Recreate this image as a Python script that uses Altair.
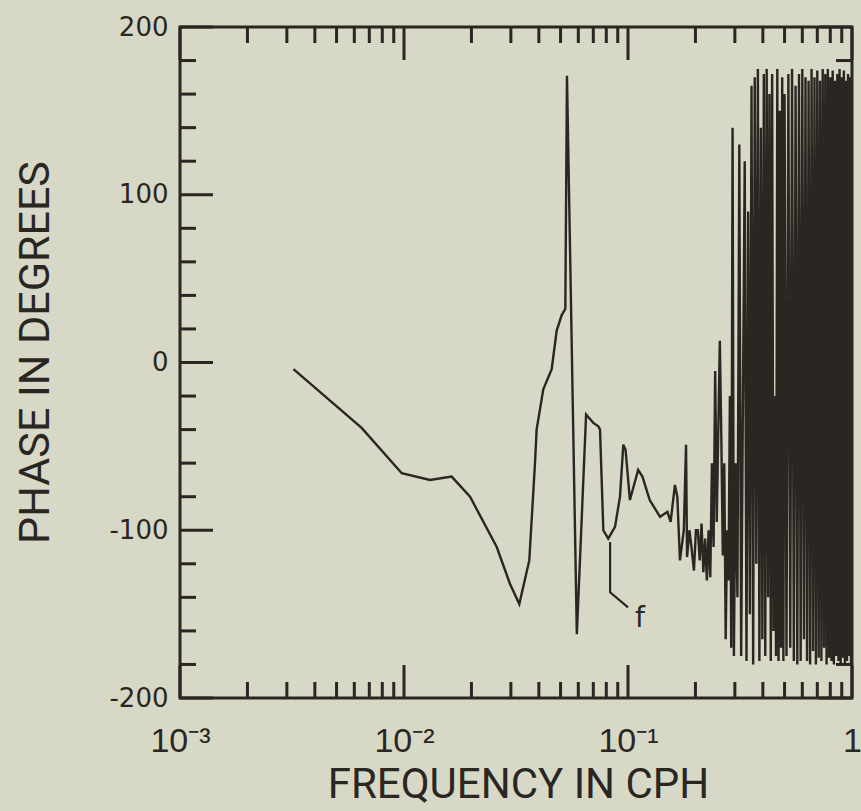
import altair as alt
import pandas as pd

INK = "#2a2622"
BG = "#d7d8c6"

# ---- data ----
FREQ_LOW = [0.00321, 0.00647, 0.00977, 0.01306, 0.01632, 0.01972, 0.02594, 0.02974, 0.03272,
            0.03625, 0.03844, 0.03909, 0.04186, 0.04563, 0.04805, 0.0505, 0.0525, 0.0534,
            0.0591, 0.0650, 0.0700, 0.0737, 0.0750, 0.0776, 0.0816, 0.0875, 0.0921, 0.0953,
            0.0975, 0.102, 0.111, 0.116, 0.125, 0.139, 0.150, 0.155, 0.162, 0.166, 0.1706,
            0.1775, 0.1816, 0.1835, 0.188, 0.192, 0.197, 0.201]
PHASE_LOW = [-4, -39, -66, -70, -68, -80, -110, -132, -144,
             -118, -60, -40, -16, -4, 19, 28, 32, 171,
             -162, -31, -36, -38, -40, -100, -105, -98, -80, -49,
             -52, -82, -64, -68, -82, -92, -89, -95, -73, -80, -118,
             -100, -49, -116, -100, -110, -124, -100]

FREQ_HIGH = [0.205, 0.209, 0.213, 0.217, 0.221, 0.225, 0.229, 0.233, 0.237, 0.241, 0.245, 0.249,
             0.253, 0.257, 0.261, 0.265, 0.269, 0.273, 0.277, 0.281, 0.285, 0.289, 0.293, 0.297,
             0.302, 0.308, 0.314, 0.320, 0.326, 0.332, 0.338, 0.344, 0.350, 0.356, 0.362, 0.368,
             0.374, 0.380, 0.386, 0.392, 0.398, 0.404, 0.410, 0.416, 0.422, 0.428, 0.434, 0.440,
             0.446, 0.452, 0.458, 0.464, 0.470, 0.476, 0.482, 0.488, 0.494,
             0.50, 0.51, 0.52, 0.53, 0.54, 0.55, 0.56, 0.57, 0.58, 0.59, 0.60, 0.61, 0.62, 0.63,
             0.64, 0.65, 0.66, 0.67, 0.68, 0.69, 0.70, 0.71, 0.72, 0.73, 0.74, 0.75, 0.76, 0.77,
             0.78, 0.79, 0.80, 0.81, 0.82, 0.83, 0.84, 0.85, 0.86, 0.87, 0.88, 0.89, 0.90, 0.91,
             0.92, 0.93, 0.94, 0.95, 0.96, 0.97, 0.98, 0.99, 1.00]
PHASE_HIGH = [-100, -118, -96, -125, -105, -130, -100, -128, -60, -110, -5, -95,
              -40, 13, -45, -115, -60, -165, -100, -130, -20, -170, 140, -175,
              -60, -140, 130, -175, -20, 120, -178, 90, -150, 165, -180, 170,
              -120, 175, -178, 140, -165, 172, -175, 175, -140, 160, -178, 172,
              -160, -20, -175, 175, -178, 150, -170, 170, -178,
              160, -175, 172, -170, 175, -178, 165, -180, 172, -178, 175, -165, 170, -178,
              168, -180, 175, -172, 170, -180, 174, -176, 168, -178, 175, -170, 172, -180,
              175, -176, 170, -178, 174, -180, 168, -175, 172, -178, 175, -180, 170, -176,
              174, -180, 168, -178, 172, -175, 170, -180, 165]

ANNOT_FREQ = [0.0832, 0.0832, 0.100]
ANNOT_PHASE = [-107, -137, -146]
LABEL_FREQ = [0.113]
LABEL_PHASE = [-153]
LABEL_TEXT = ["f"]

X_MAJOR = [0.001, 0.01, 0.1, 1.0]
X_MINOR = [0.002, 0.003, 0.004, 0.005, 0.006, 0.007, 0.008, 0.009,
           0.02, 0.03, 0.04, 0.05, 0.06, 0.07, 0.08, 0.09,
           0.2, 0.3, 0.4, 0.5, 0.6, 0.7, 0.8, 0.9]
Y_MAJOR = [-200, -100, 0, 100, 200]
Y_MINOR = [-180, -160, -140, -120, -80, -60, -40, -20, 20, 40, 60, 80, 120, 140, 160, 180]

W, H = 672, 671
MAJ, MIN = 33, 16

xscale = alt.Scale(type="log", domain=[0.001, 1], nice=False)
yscale = alt.Scale(domain=[-200, 200], nice=False, zero=False)

curve = pd.DataFrame({"freq": FREQ_LOW + FREQ_HIGH, "phase": PHASE_LOW + PHASE_HIGH})
curve["i"] = list(range(len(curve)))

xaxis = alt.Axis(
    values=X_MAJOR, ticks=False, domain=False, grid=False,
    labelExpr="datum.value < 0.002 ? '10⁻³' : datum.value < 0.02 ? '10⁻²' : datum.value < 0.2 ? '10⁻¹' : '1'",
    labelFont="Liberation Sans", labelFontSize=34, labelColor=INK, labelPadding=26,
    labelFlush=False, labelOverlap=False,
    title="FREQUENCY IN CPH", titleFont="Liberation Sans Narrow, Roboto", titleFontSize=42,
    titleFontWeight="normal", titleColor=INK, titleX=338, titleY=86,
    titleAlign="center", titleBaseline="middle",
)
yaxis = alt.Axis(
    values=Y_MAJOR, ticks=False, domain=False, grid=False,
    labelExpr="'' + datum.value",
    labelFont="DejaVu Sans", labelFontSize=26, labelColor=INK, labelPadding=12,
    labelFlush=False, labelOverlap=False,
    title="PHASE IN DEGREES", titleFont="Liberation Sans Narrow, Roboto", titleFontSize=43,
    titleFontWeight="normal", titleColor=INK, titleX=-145, titleY=325,
    titleAlign="center", titleBaseline="middle", titleAngle=-90,
)

def X(field):
    return alt.X(field, scale=xscale, axis=xaxis, title="FREQUENCY IN CPH")

def Y(field):
    return alt.Y(field, scale=yscale, axis=yaxis, title="PHASE IN DEGREES")

line = alt.Chart(curve).mark_line(color=INK, strokeWidth=2.4, clip=True).encode(
    x=X("freq:Q"), y=Y("phase:Q"), order="i:Q",
)

annot = alt.Chart(pd.DataFrame({"freq": ANNOT_FREQ, "phase": ANNOT_PHASE, "i": [0, 1, 2]})).mark_line(
    color=INK, strokeWidth=2.2
).encode(x=X("freq:Q"), y=Y("phase:Q"), order="i:Q")

ftext = alt.Chart(pd.DataFrame({"freq": LABEL_FREQ, "phase": LABEL_PHASE, "t": LABEL_TEXT})).mark_text(
    font="DejaVu Sans", fontSize=28, color=INK, align="center", baseline="middle"
).encode(x=X("freq:Q"), y=Y("phase:Q"), text="t:N")

def xticks(vals, length):
    d = pd.DataFrame({"freq": vals})
    base = alt.Chart(d).mark_rule(color=INK, strokeWidth=3)
    bottom = base.encode(x=X("freq:Q"), y=alt.value(H), y2=alt.value(H - length))
    top = base.encode(x=X("freq:Q"), y=alt.value(0), y2=alt.value(length))
    return [bottom, top]

def yticks(vals, length):
    d = pd.DataFrame({"phase": vals})
    base = alt.Chart(d).mark_rule(color=INK, strokeWidth=3)
    left = base.encode(y=Y("phase:Q"), x=alt.value(0), x2=alt.value(length))
    right = base.encode(y=Y("phase:Q"), x=alt.value(W), x2=alt.value(W - length))
    return [left, right]

layers = [line, annot, ftext] + xticks(X_MAJOR, MAJ) + xticks(X_MINOR, MIN) + yticks(Y_MAJOR, MAJ) + yticks(Y_MINOR, MIN)

chart = alt.layer(*layers).properties(
    width=W, height=H,
    padding={"left": 180, "top": 27, "right": 9, "bottom": 113},
    autosize=alt.AutoSizeParams(type="none"),
    background=BG,
).configure_view(stroke=INK, strokeWidth=3)

chart.save("out.html", embed_options={"renderer": "svg", "actions": False})
